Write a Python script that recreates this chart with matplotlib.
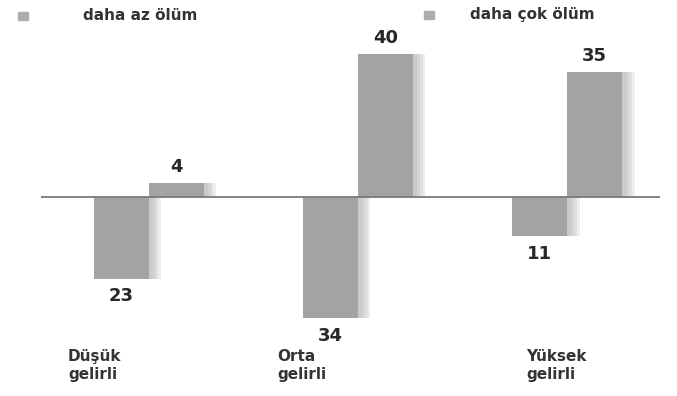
import numpy as np
import matplotlib
matplotlib.use("Agg")
import matplotlib.pyplot as plt
import matplotlib.patheffects as pe

# data
categories = ["Düşük\ngelirli", "Orta\ngelirli", "Yüksek\ngelirli"]
less_deaths = [23, 34, 11]      # daha az ölüm (drawn downwards)
more_deaths = [4, 40, 35]       # daha çok ölüm
series_names = ["daha az ölüm", "daha çok ölüm"]

plt.rcParams['font.family'] = ['DejaVu Sans']

bar_col = '#a3a3a3'
txt_col = '#262626'
fig = plt.figure(figsize=(6.77, 3.96), dpi=100)
ax = fig.add_axes([41 / 677, 0, 619 / 677, 1])

x = np.arange(len(categories))
w = 0.263
# soft shadow to the right, built from a few faint offset copies
shadow = [pe.SimplePatchShadow(offset=(d, 0), shadow_rgbFace='#9a9a9a', alpha=0.16)
          for d in (9, 7, 5, 3)] + [pe.Normal()]

neg = ax.bar(x - w / 2, [-v for v in less_deaths], w, color=bar_col, zorder=2)
pos = ax.bar(x + w / 2, more_deaths, w, color=bar_col, zorder=2)
for b in list(neg) + list(pos):
    b.set_path_effects(shadow)

ax.axhline(0, color='#7a7a7a', lw=1.3, zorder=3)

# value labels
for i, v in enumerate(less_deaths):
    ax.text(x[i] - w / 2, -v - 2.4, str(v), ha='center', va='top',
            fontsize=13, fontweight='bold', color=txt_col)
for i, v in enumerate(more_deaths):
    ax.text(x[i] + w / 2, v + 2.0, str(v), ha='center', va='bottom',
            fontsize=13, fontweight='bold', color=txt_col)

# category labels under the chart
label_x = [-0.385, 0.614, 1.804]
for lx, c in zip(label_x, categories):
    ax.text(lx, -42.8, c, ha='left', va='top', fontsize=11,
            fontweight='bold', color='#333333', linespacing=1.2)

ax.set_xlim(-0.514, 2.444)
ax.set_ylim(-55.9, 55.3)
ax.axis('off')

# legend drawn in figure coords
fig.patches.append(plt.Rectangle((18 / 677, 1 - 20 / 396), 10 / 677, 8 / 396,
                                 transform=fig.transFigure, color='#adadad'))
fig.patches.append(plt.Rectangle((424 / 677, 1 - 19 / 396), 10 / 677, 8 / 396,
                                 transform=fig.transFigure, color='#adadad'))
fig.text(83 / 677, 1 - 16 / 396, series_names[0], ha='left', va='center',
         fontsize=11, fontweight='bold', color='#333333')
fig.text(470 / 677, 1 - 15 / 396, series_names[1], ha='left', va='center',
         fontsize=11, fontweight='bold', color='#333333')

fig.savefig('out.png', dpi=100, facecolor='white')
